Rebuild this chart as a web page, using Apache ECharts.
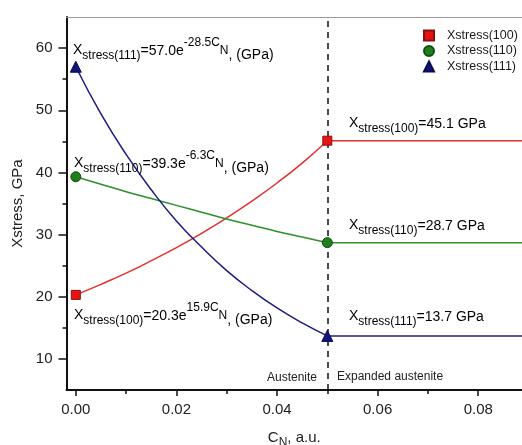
<!DOCTYPE html>
<html>
<head>
<meta charset="utf-8">
<script src="https://cdn.jsdelivr.net/npm/echarts@6/dist/echarts.min.js"></script>
<style>
html,body{margin:0;padding:0;background:#fff;}
#chart{width:522px;height:445px;}
</style>
</head>
<body>
<div id="chart"></div>
<script>
// ---- data ----
var CN_FIT = [0, 0.005, 0.01, 0.015, 0.02, 0.025, 0.03, 0.035, 0.04, 0.045, 0.05];
var STRESS100_FIT = [20.3, 22.0, 23.8, 25.8, 27.9, 30.2, 32.7, 35.4, 38.3, 41.5, 45.1];
var STRESS110_FIT = [39.3, 38.1, 36.9, 35.8, 34.7, 33.6, 32.5, 31.5, 30.5, 29.6, 28.7];
var STRESS111_FIT = [57.0, 49.4, 42.9, 37.2, 32.2, 28.0, 24.2, 21.0, 18.2, 15.8, 13.7];
var CN_MARK = [0, 0.05];
var STRESS100_MARK = [20.3, 45.1];
var STRESS110_MARK = [39.3, 28.7];
var STRESS111_MARK = [57.0, 13.7];
var CN_FLAT = [0.0505, 0.09];
var STRESS100_FLAT = [45.1, 45.1];
var STRESS110_FLAT = [28.7, 28.7];
var STRESS111_FLAT = [13.7, 13.7];
var CN_BOUNDARY = 0.05;
var X_LABEL_TICKS = [0, 0.02, 0.04, 0.06, 0.08];
var X_MINOR_TICKS = [0.01, 0.03, 0.05, 0.07];
var Y_LABEL_TICKS = [10, 20, 30, 40, 50, 60];
var Y_MINOR_TICKS = [15, 25, 35, 45, 55];
var SERIES_NAMES = ['Xstress(100)', 'Xstress(110)', 'Xstress(111)'];

function zip(xs, ys) { return xs.map(function (x, i) { return [x, ys[i]]; }); }

var COLORS = { r: '#e2302c', g: '#2f8f2c', b: '#1c1c86' };
var FONT = 'Liberation Sans, Arial, sans-serif';
var TXT = '#1a1a1a';

var rich = {
  b:  { fontSize: 14, lineHeight: 14, padding: [6, 0, 0, 0], verticalAlign: 'top', fontFamily: FONT, color: TXT },
  s:  { fontSize: 12, lineHeight: 12, padding: [13, 0, 0, 0], verticalAlign: 'top', fontFamily: FONT, color: TXT },
  e:  { fontSize: 14, lineHeight: 14, padding: [7, 0, 0, 0], verticalAlign: 'top', fontFamily: FONT, color: TXT },
  p:  { fontSize: 12, lineHeight: 12, padding: [0, 0, 0, 0], verticalAlign: 'top', fontFamily: FONT, color: TXT },
  n:  { fontSize: 12, lineHeight: 12, padding: [8, 0, 0, 0], verticalAlign: 'top', fontFamily: FONT, color: TXT },
  g:  { fontSize: 14, lineHeight: 14, padding: [11, 0, 0, 0], verticalAlign: 'top', fontFamily: FONT, color: TXT }
};

function fitText(idx, coef, expo) {
  return '{b|X}{s|stress(' + idx + ')}{e|=' + coef + 'e}{p|' + expo + 'C}{n|N}{g|, (GPa)}';
}
function constText(idx, val) {
  return '{b|X}{s|stress(' + idx + ')}{e|=' + val + ' GPa}';
}
function ann(x, y, text) {
  return { type: 'text', left: x, top: y, z: 100, style: { text: text, rich: rich, font: '14px ' + FONT } };
}

var chart = echarts.init(document.getElementById('chart'), null, { renderer: 'canvas' });

var option = {
  backgroundColor: '#fff',
  animation: false,
  grid: { left: 66.5, right: 0, top: 17, bottom: 55, containLabel: false, outerBoundsMode: 'none' },
  legend: {
    data: SERIES_NAMES,
    orient: 'vertical',
    left: 418,
    top: 24,
    itemWidth: 10,
    itemHeight: 10,
    itemGap: 2.5,
    textStyle: { fontSize: 12.5, fontFamily: FONT, color: TXT, padding: [0, 0, 0, 8] }
  },
  xAxis: [
    {
      type: 'value', position: 'bottom', min: -0.00185, max: 0.0887,
      axisLine: { show: true, onZero: false, lineStyle: { color: '#111', width: 2 } },
      axisTick: { show: true, customValues: X_LABEL_TICKS, length: 6, lineStyle: { color: '#111', width: 1.5 } },
      axisLabel: { customValues: X_LABEL_TICKS, margin: 12, fontSize: 15, fontFamily: FONT, color: '#222',
        formatter: function (v) { return v.toFixed(2); } },
      splitLine: { show: false },
      name: '{a|C}{s|N}{a|, a.u.}',
      nameLocation: 'middle',
      nameGap: 40,
      nameTextStyle: { rich: {
        a: { fontSize: 15, fontFamily: FONT, color: '#222', lineHeight: 15, padding: [0,0,0,0], verticalAlign: 'top' },
        s: { fontSize: 12, fontFamily: FONT, color: '#222', lineHeight: 12, padding: [7,0,0,0], verticalAlign: 'top' }
      } }
    },
    {
      type: 'value', position: 'bottom', min: -0.00185, max: 0.0887,
      axisLine: { show: false, onZero: false },
      axisTick: { show: true, customValues: X_MINOR_TICKS, length: 4, lineStyle: { color: '#111', width: 1.5 } },
      axisLabel: { show: false },
      splitLine: { show: false }
    },
    {
      type: 'value', position: 'top', min: -0.00185, max: 0.0887,
      axisLine: { show: true, onZero: false, lineStyle: { color: '#9a9a9a', width: 1 } },
      axisTick: { show: false }, axisLabel: { show: false }, splitLine: { show: false }
    }
  ],
  yAxis: [
    {
      type: 'value', position: 'left', min: 5, max: 65,
      axisLine: { show: true, onZero: false, lineStyle: { color: '#111', width: 2 } },
      axisTick: { show: true, customValues: Y_LABEL_TICKS, length: 8, lineStyle: { color: '#111', width: 1.5 } },
      axisLabel: { customValues: Y_LABEL_TICKS, margin: 14, fontSize: 15, fontFamily: FONT, color: '#222' },
      splitLine: { show: false },
      name: 'Xstress, GPa',
      nameLocation: 'middle',
      nameRotate: 90,
      nameGap: 34,
      nameTextStyle: { fontSize: 15, fontFamily: FONT, color: '#222' }
    },
    {
      type: 'value', position: 'left', min: 5, max: 65,
      axisLine: { show: false, onZero: false },
      axisTick: { show: true, customValues: Y_MINOR_TICKS, length: 4, lineStyle: { color: '#111', width: 1.5 } },
      axisLabel: { show: false },
      splitLine: { show: false }
    }
  ],
  series: [
    { name: 'fit100', type: 'line', smooth: 0.5, showSymbol: false, data: zip(CN_FIT, STRESS100_FIT),
      lineStyle: { color: COLORS.r, width: 1.5 }, z: 2,
      markLine: { silent: true, symbol: ['none', 'none'], label: { show: false },
        lineStyle: { color: '#111', type: [6, 5], width: 1.5 }, data: [{ xAxis: CN_BOUNDARY }] } },
    { name: 'fit110', type: 'line', smooth: 0.5, showSymbol: false, data: zip(CN_FIT, STRESS110_FIT),
      lineStyle: { color: COLORS.g, width: 1.5 }, z: 2 },
    { name: 'fit111', type: 'line', smooth: 0.5, showSymbol: false, data: zip(CN_FIT, STRESS111_FIT),
      lineStyle: { color: COLORS.b, width: 1.5 }, z: 2 },
    { name: 'flat100', type: 'line', showSymbol: false, data: zip(CN_FLAT, STRESS100_FLAT),
      lineStyle: { color: COLORS.r, width: 1.5 }, z: 2 },
    { name: 'flat110', type: 'line', showSymbol: false, data: zip(CN_FLAT, STRESS110_FLAT),
      lineStyle: { color: COLORS.g, width: 1.5 }, z: 2 },
    { name: 'flat111', type: 'line', showSymbol: false, data: zip(CN_FLAT, STRESS111_FLAT),
      lineStyle: { color: COLORS.b, width: 1.5 }, z: 2 },
    { name: SERIES_NAMES[0], type: 'scatter', symbol: 'rect', symbolSize: 9, data: zip(CN_MARK, STRESS100_MARK),
      itemStyle: { color: '#e81414', borderColor: '#8a1010', borderWidth: 1, opacity: 1 }, z: 5 },
    { name: SERIES_NAMES[1], type: 'scatter', symbol: 'circle', symbolSize: 10, data: zip(CN_MARK, STRESS110_MARK),
      itemStyle: { color: '#1f7f1f', borderColor: '#0f4f0f', borderWidth: 1, opacity: 1 }, z: 5 },
    { name: SERIES_NAMES[2], type: 'scatter', symbol: 'triangle', symbolSize: 11, data: zip(CN_MARK, STRESS111_MARK),
      itemStyle: { color: '#12127a', borderColor: '#0a0a50', borderWidth: 1, opacity: 1 }, z: 5 }
  ],
  graphic: [
    ann(73, 37, fitText('111', '57.0', '-28.5')),
    ann(74, 150, fitText('110', '39.3', '-6.3')),
    ann(74, 302, fitText('100', '20.3', '15.9')),
    ann(349, 110, constText('100', '45.1')),
    ann(349, 212, constText('110', '28.7')),
    ann(349, 303, constText('111', '13.7')),
    { type: 'text', left: 267, top: 372, z: 100, style: { text: 'Austenite', font: '12px ' + FONT, fill: '#222' } },
    { type: 'text', left: 337, top: 371, z: 100, style: { text: 'Expanded austenite', font: '12px ' + FONT, fill: '#222' } }
  ]
};
chart.setOption(option);
</script>
</body>
</html>
